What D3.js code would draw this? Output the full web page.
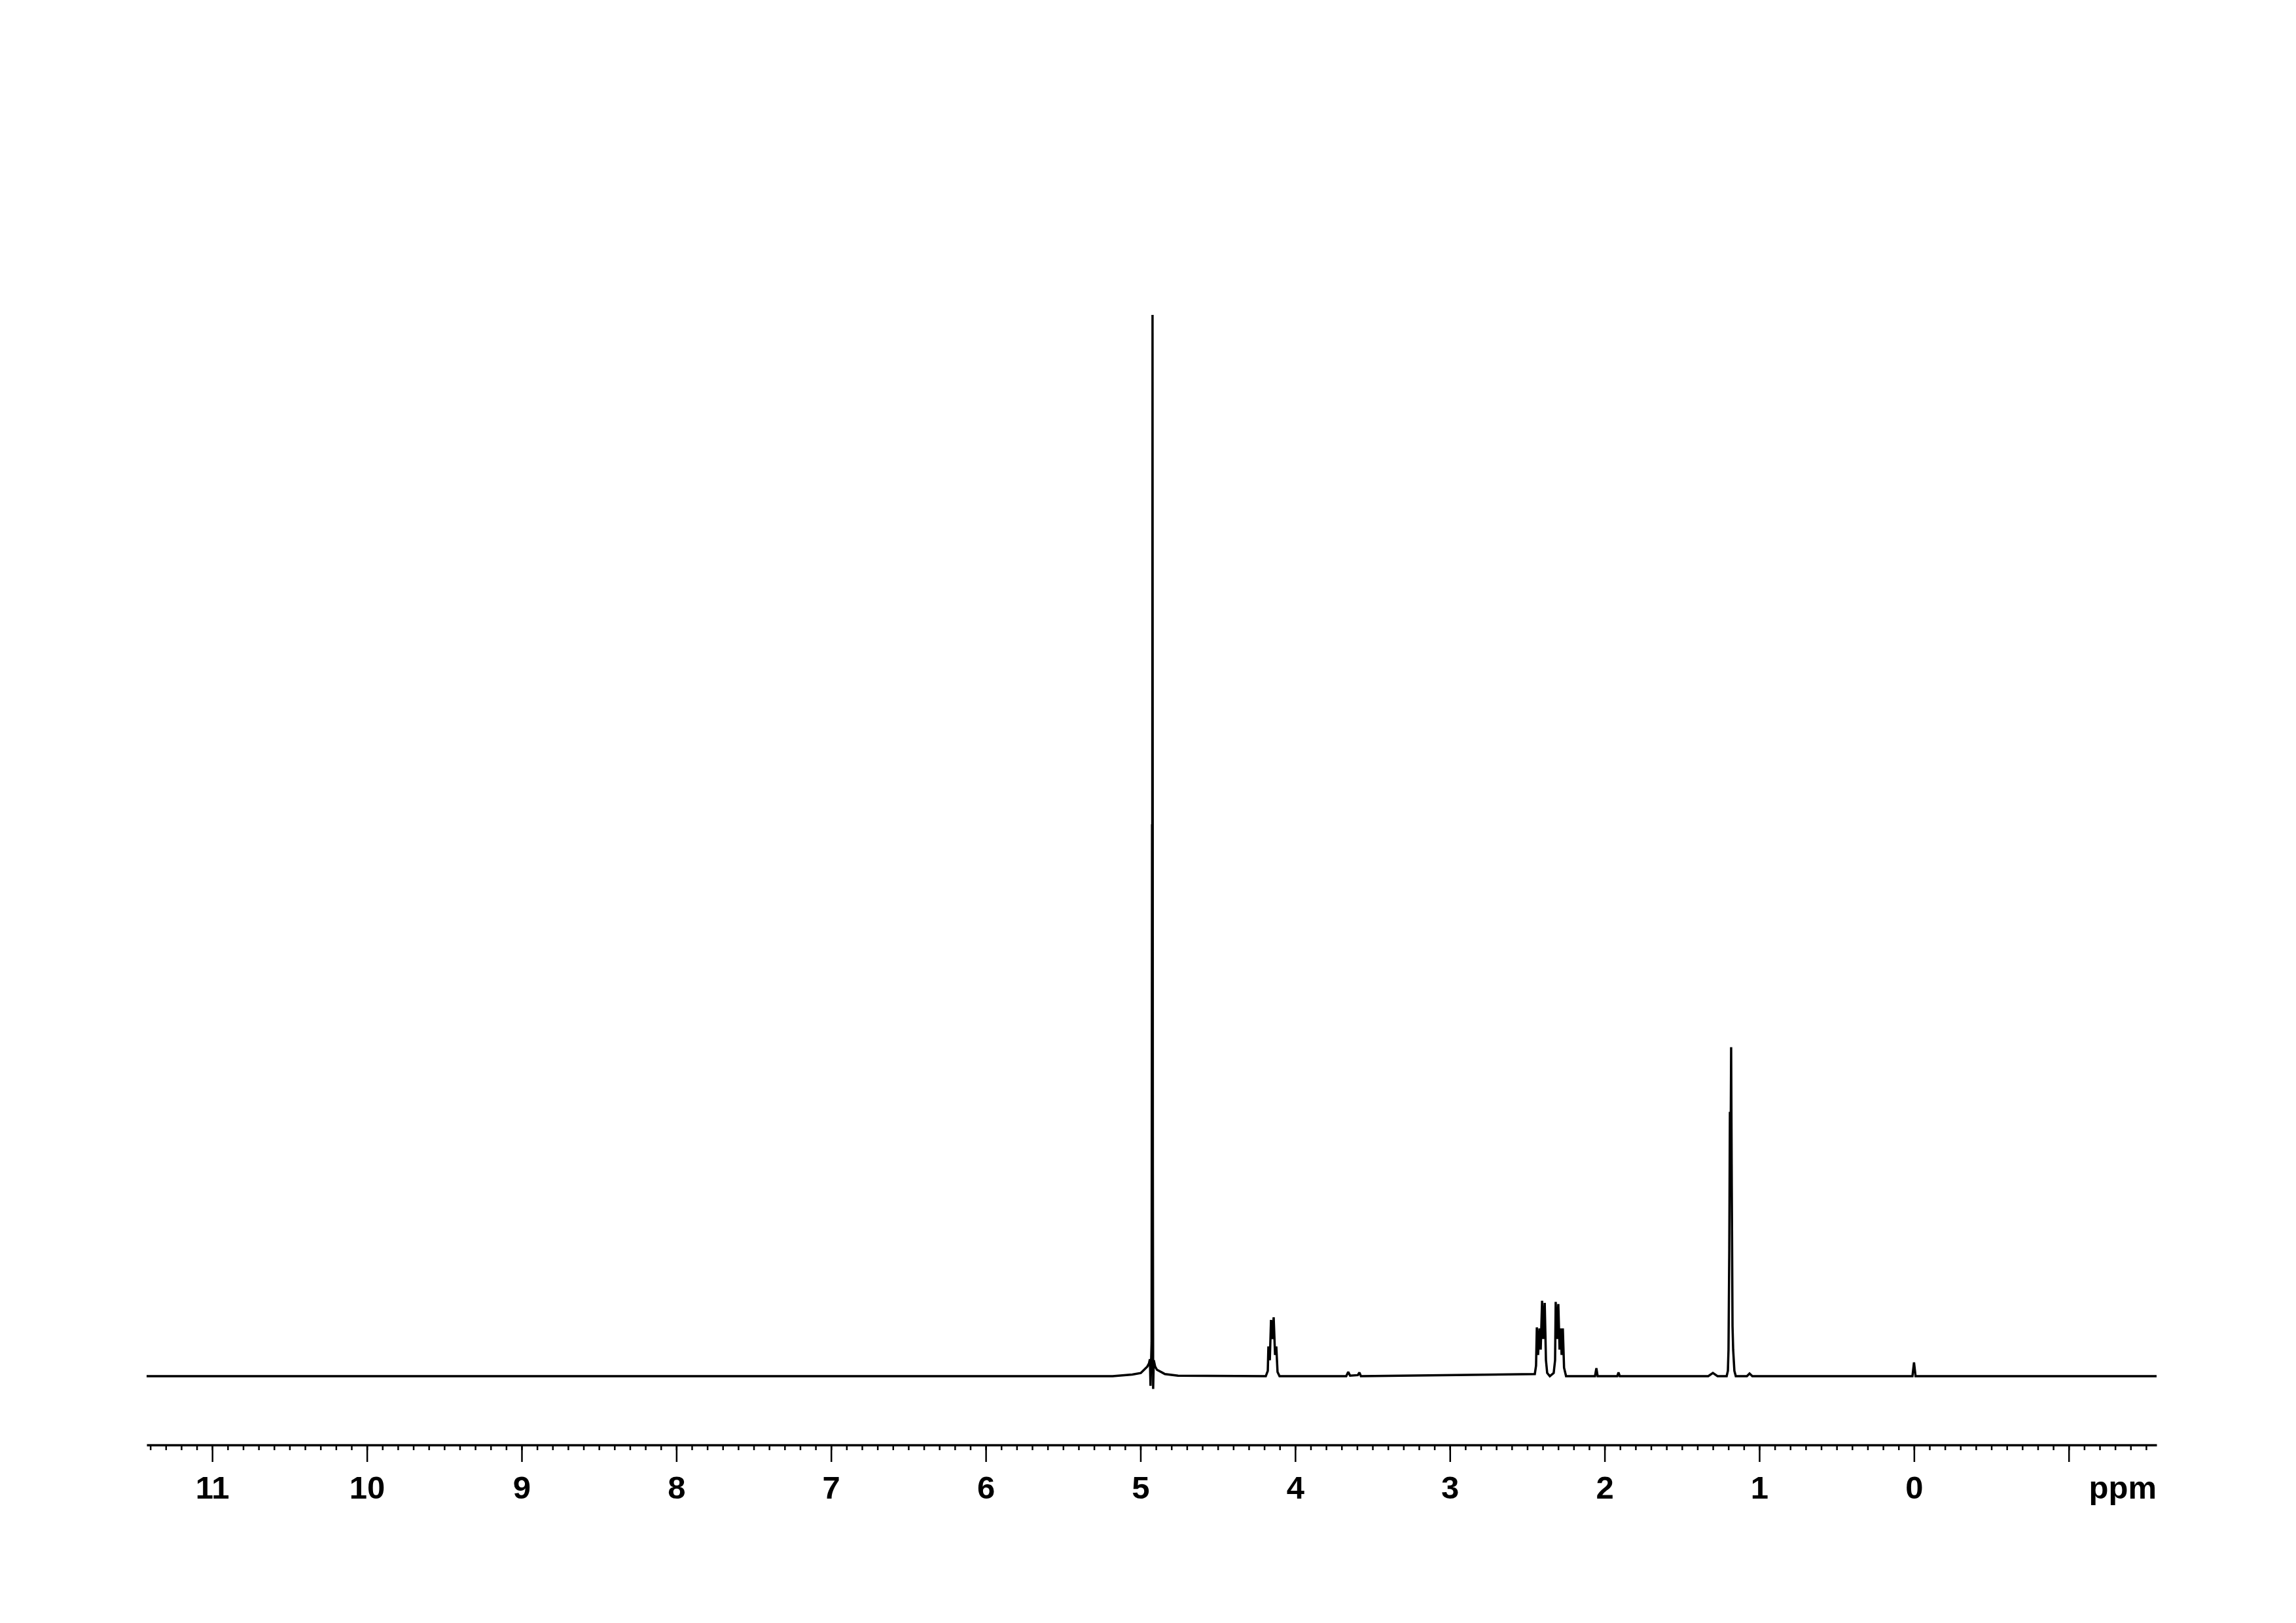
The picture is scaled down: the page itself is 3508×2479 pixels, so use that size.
<!DOCTYPE html>
<html>
<head>
<meta charset="utf-8">
<script src="https://cdn.jsdelivr.net/npm/d3@7"></script>
<style>
  html, body { margin: 0; padding: 0; background: #ffffff; }
  svg { display: block; }
</style>
</head>
<body>
<script>
// ---- Data ----
// Spectrum trace: chemical shift (ppm) and relative intensity (tallest peak = 100)
const tracePpm = [
  11.424, 5.180, 5.053, 4.998, 4.956, 4.945, 4.939, 4.935, 4.928, 4.925, 4.924, 4.922, 4.920, 4.918, 4.914, 4.905, 4.893, 4.842, 4.757,
  4.190, 4.177, 4.173, 4.164, 4.156, 4.147, 4.139, 4.130, 4.122, 4.114, 4.101,
  3.670, 3.657, 3.645, 3.595, 3.585, 3.575,
  2.451, 2.443, 2.438, 2.430, 2.421, 2.413, 2.404, 2.396, 2.387, 2.379, 2.371, 2.354,
  2.329, 2.320, 2.316, 2.308, 2.299, 2.291, 2.282, 2.278, 2.270, 2.262, 2.249,
  2.062, 2.053, 2.045, 1.918, 1.910, 1.902,
  1.330, 1.300, 1.270,
  1.211, 1.203, 1.199, 1.194, 1.190, 1.186, 1.182, 1.178, 1.173, 1.169, 1.161, 1.152,
  1.080, 1.063, 1.045,
  0.010, 0.000, -0.010,
  -1.568
];
const traceIntensity = [
  0, 0, 0.15, 0.3, 0.9, 1.2, 1.6, -0.9, 3.2, 52, 40, 100, 20, -1.2, 1.5, 0.9, 0.6, 0.2, 0.05,
  0, 0.5, 2.8, 1.5, 5.3, 3.5, 5.55, 2.0, 2.8, 0.4, 0,
  0, 0.4, 0.05, 0.1, 0.35, 0,
  0.2, 1.0, 4.6, 2.0, 4.5, 2.5, 7.1, 3.5, 6.9, 1.5, 0.3, 0,
  0.3, 1.5, 7.0, 3.5, 6.8, 2.5, 4.5, 2.0, 4.5, 0.8, 0,
  0, 0.75, 0, 0, 0.35, 0,
  0, 0.3, 0,
  0, 0.5, 2.5, 12, 24.9, 20, 31, 18, 4.7, 2.5, 0.5, 0,
  0, 0.25, 0,
  0, 1.3, 0,
  0
];
const majorTicks = [11, 10, 9, 8, 7, 6, 5, 4, 3, 2, 1, 0, -1];
const majorTickLabels = ["11", "10", "9", "8", "7", "6", "5", "4", "3", "2", "1", "0", ""];
const minorTicks = d3.range(-15, 115).map(d => d / 10);
const axisUnit = "ppm";

// ---- Layout ----
const W = 3508, H = 2479;
const svg = d3.select("body").append("svg")
  .attr("width", W).attr("height", H)
  .attr("viewBox", `0 0 ${W} ${H}`);
svg.append("rect").attr("width", W).attr("height", H).attr("fill", "#ffffff");

const x = d3.scaleLinear().domain([11.424, -1.568]).range([224, 3295]);
const y = d3.scaleLinear().domain([0, 100]).range([2102, 481]);
const axisY = 2207;
const FONT = "'Liberation Sans', Arial, Helvetica, sans-serif";

// ---- Spectrum ----
const pts = tracePpm.map((p, i) => [p, traceIntensity[i]]);
const line = d3.line().x(d => x(d[0])).y(d => y(d[1]));
svg.append("path")
  .datum(pts)
  .attr("d", line)
  .attr("fill", "none")
  .attr("stroke", "#000")
  .attr("stroke-width", 3.5)
  .attr("stroke-linejoin", "miter")
  .attr("stroke-miterlimit", 2);

// ---- Axis ----
const minorAxis = d3.axisBottom(x)
  .tickValues(minorTicks)
  .tickSize(8)
  .tickSizeOuter(0)
  .tickFormat("");
const gMinor = svg.append("g").attr("transform", `translate(0,${axisY})`).call(minorAxis);
gMinor.select(".domain").remove();
gMinor.selectAll(".tick line").attr("stroke", "#000").attr("stroke-width", 2.5);

const majorAxis = d3.axisBottom(x)
  .tickValues(majorTicks)
  .tickSize(26)
  .tickSizeOuter(0)
  .tickPadding(22)
  .tickFormat((d, i) => majorTickLabels[i]);
const gMajor = svg.append("g").attr("transform", `translate(0,${axisY})`).call(majorAxis);
gMajor.select(".domain").attr("stroke", "#000").attr("stroke-width", 3.5);
gMajor.selectAll(".tick line").attr("stroke", "#000").attr("stroke-width", 2.5);
gMajor.selectAll(".tick text")
  .attr("fill", "#000")
  .attr("dy", null)
  .attr("y", 82)
  .style("font-family", FONT)
  .style("font-weight", "bold")
  .style("font-size", "49px");

svg.append("text")
  .attr("x", x.range()[1])
  .attr("y", axisY + 82)
  .attr("text-anchor", "end")
  .attr("fill", "#000")
  .style("font-family", FONT)
  .style("font-weight", "bold")
  .style("font-size", "49px")
  .text(axisUnit);
</script>
</body>
</html>
